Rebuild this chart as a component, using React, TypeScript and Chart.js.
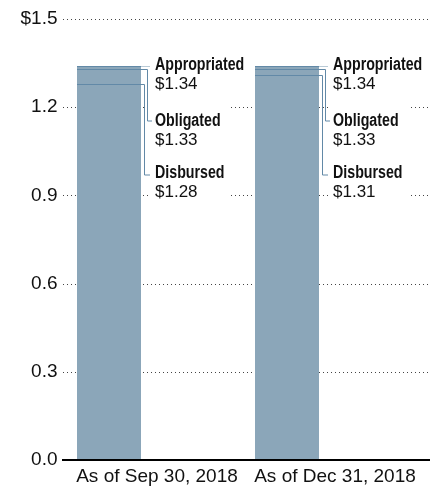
import React, { useEffect, useRef } from 'react';
import { Chart, registerables } from 'chart.js';

Chart.register(...registerables);

// ---- data ----
const categories = ['As of Sep 30, 2018', 'As of Dec 31, 2018'];
const appropriated = [1.34, 1.34];
const obligated = [1.33, 1.33];
const disbursed = [1.28, 1.31];
const seriesNames = ['Appropriated', 'Obligated', 'Disbursed'];
const yTickLabels = ['0.0', '0.3', '0.6', '0.9', '1.2', '$1.5'];

// ---- styles ----
const TICK_FONT = '"Liberation Sans", Arial, sans-serif';
const BAR_COLOR = '#8ba6b9';
const LINE_DARK = '#6289a7';
const LINE_LIGHT = '#b9cad6';
const TEXT_COLOR = '#111111';
const NARROW = 0.79; // horizontal condensing of the bold series names

const fmt = (v: number) => '$' + v.toFixed(2);

const gridPlugin = {
  id: 'dottedGrid',
  beforeDatasetsDraw(chart: any) {
    const { ctx, chartArea, scales } = chart;
    const y = scales.y;
    ctx.save();
    ctx.strokeStyle = '#444';
    ctx.lineWidth = 1;
    ctx.setLineDash([1, 3]);
    y.ticks.forEach((t: any, i: number) => {
      if (i === 0) return;
      const py = Math.round(y.getPixelForValue(t.value)) + 0.5;
      ctx.beginPath();
      ctx.moveTo(chartArea.left - 1.5, py);
      ctx.lineTo(chartArea.right + 9.5, py);
      ctx.stroke();
    });
    ctx.restore();
  },
};

const annotatePlugin = {
  id: 'annotate',
  afterDatasetsDraw(chart: any) {
    const { ctx, chartArea, scales } = chart;
    const y = scales.y;
    const meta = chart.getDatasetMeta(0);
    ctx.save();
    meta.data.forEach((bar: any, i: number) => {
      const { x, width } = bar.getProps(['x', 'width'], true);
      const left = Math.round(x - width / 2);
      const right = Math.round(x + width / 2);
      const yA = Math.round(y.getPixelForValue(appropriated[i])) + 0.5;
      const yO = Math.round(y.getPixelForValue(obligated[i])) + 0.5;
      const yD = Math.round(y.getPixelForValue(disbursed[i])) + 0.5;
      const tx = right + 14;
      // label baselines (layout offsets)
      const bases = [yA + 3, yA + 59, yA + 111];
      const values = [appropriated[i], obligated[i], disbursed[i]];

      // white backgrounds
      ctx.fillStyle = '#ffffff';
      bases.forEach((b) => {
        ctx.fillRect(tx - 4, b - 19, 80, 40);
      });

      ctx.lineWidth = 1;
      ctx.setLineDash([]);
      // Appropriated
      ctx.strokeStyle = LINE_DARK;
      ctx.beginPath();
      ctx.moveTo(left, yA);
      ctx.lineTo(right, yA);
      ctx.stroke();
      ctx.strokeStyle = LINE_LIGHT;
      ctx.beginPath();
      ctx.moveTo(right, yA);
      ctx.lineTo(right + 9, yA);
      ctx.stroke();
      // Obligated
      const eO = bases[1] - 5 + 0.5;
      ctx.strokeStyle = LINE_DARK;
      ctx.beginPath();
      ctx.moveTo(left, yO);
      ctx.lineTo(right + 6.5, yO);
      ctx.lineTo(right + 6.5, eO);
      ctx.lineTo(right + 11, eO);
      ctx.stroke();
      // Disbursed
      const eD = bases[2] - 3 + 0.5;
      ctx.beginPath();
      ctx.moveTo(left, yD);
      ctx.lineTo(right + 3.5, yD);
      ctx.lineTo(right + 3.5, eD);
      ctx.lineTo(right + 9, eD);
      ctx.stroke();

      // texts
      ctx.fillStyle = TEXT_COLOR;
      ctx.textAlign = 'left';
      ctx.textBaseline = 'alphabetic';
      bases.forEach((b, k) => {
        ctx.save();
        ctx.translate(tx, b);
        ctx.scale(NARROW, 1);
        ctx.font = `bold 18px ${TICK_FONT}`;
        ctx.fillText(seriesNames[k], 0, 0);
        ctx.restore();
        ctx.font = `17px ${TICK_FONT}`;
        ctx.fillText(fmt(values[k]), tx, b + 19);
      });
    });

    // zero axis line
    const y0 = Math.round(y.getPixelForValue(0));
    ctx.strokeStyle = '#000';
    ctx.lineWidth = 2;
    ctx.beginPath();
    ctx.moveTo(chartArea.left - 2.5, y0);
    ctx.lineTo(chartArea.right + 9.5, y0);
    ctx.stroke();
    ctx.restore();
  },
};

export default function App() {
  const canvasRef = useRef<HTMLCanvasElement | null>(null);

  useEffect(() => {
    const canvas = canvasRef.current;
    if (!canvas) return;
    const chart = new Chart(canvas, {
      type: 'bar',
      data: {
        labels: categories,
        datasets: [
          {
            data: appropriated,
            backgroundColor: BAR_COLOR,
            borderWidth: 0,
            barPercentage: 0.719,
            categoryPercentage: 1,
          },
          {
            data: [null, null],
            backgroundColor: 'rgba(0,0,0,0)',
            borderWidth: 0,
            barPercentage: 0.719,
            categoryPercentage: 1,
          },
        ],
      },
      options: {
        animation: false,
        responsive: false,
        devicePixelRatio: 1,
        layout: { padding: { top: 19, right: 12.5, left: 0, bottom: 0 } },
        plugins: {
          legend: { display: false },
          tooltip: { enabled: false },
        },
        scales: {
          x: {
            grid: { display: false, drawTicks: false },
            border: { display: false },
            ticks: {
              font: { family: TICK_FONT, size: 19 },
              color: TEXT_COLOR,
              padding: 5,
              labelOffset: 3.5,
              maxRotation: 0,
              autoSkip: false,
            },
            afterFit: (s: any) => {
              s.height = 27;
            },
          },
          y: {
            min: 0,
            max: 1.5,
            grid: { display: false, drawTicks: false },
            border: { display: false },
            ticks: {
              stepSize: 0.3,
              font: { family: TICK_FONT, size: 19 },
              color: TEXT_COLOR,
              padding: 7,
              callback: (_v: any, i: number) => yTickLabels[i],
            },
            afterFit: (s: any) => {
              s.width = 64.5;
            },
          },
        },
      },
      plugins: [gridPlugin, annotatePlugin],
    } as any);
    return () => chart.destroy();
  }, []);

  return (
    <div style={{ position: 'fixed', left: 0, top: 0, width: 433, height: 487, background: '#fff' }}>
      <canvas ref={canvasRef} width={433} height={487} style={{ display: 'block', width: 433, height: 487 }} />
    </div>
  );
}
